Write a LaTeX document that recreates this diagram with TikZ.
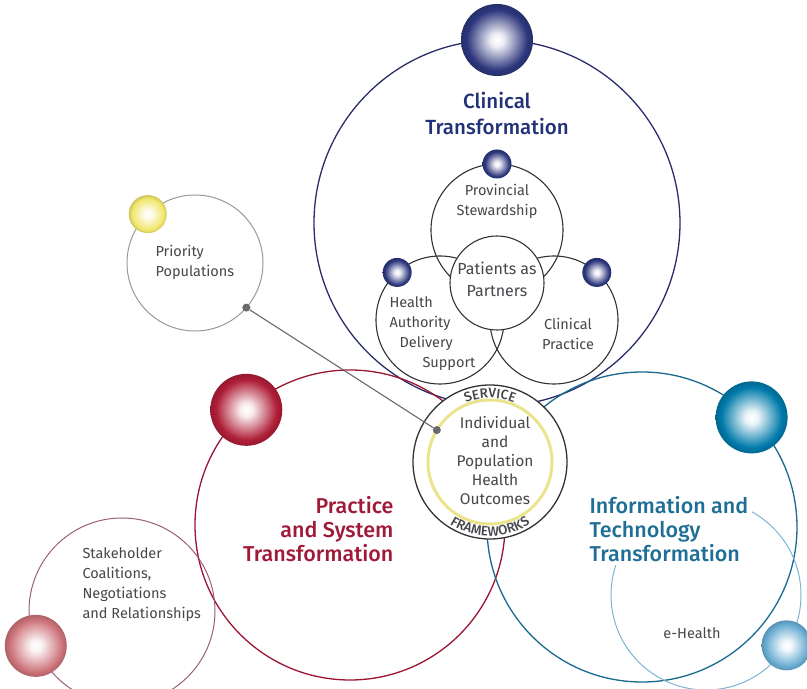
\documentclass[tikz,border=0pt]{standalone}
\usepackage{fontspec}
\setmainfont{Fira Sans}
\newfontfamily\headfont{Fira Sans Medium}
\usetikzlibrary{calc,decorations.text}

\definecolor{clin}{RGB}{40,45,105}
\definecolor{clint}{RGB}{35,50,120}
\definecolor{prac}{RGB}{155,20,50}
\definecolor{pract}{RGB}{160,25,55}
\definecolor{info}{RGB}{25,105,145}
\definecolor{infot}{RGB}{30,110,150}
\definecolor{ehc}{RGB}{125,180,210}
\definecolor{stake}{RGB}{155,95,115}
\definecolor{yel}{RGB}{235,228,140}
\definecolor{dark}{RGB}{50,50,55}
\definecolor{txt}{RGB}{70,70,75}
\definecolor{linkc}{RGB}{105,105,110}
% orb colours
\definecolor{oclin}{RGB}{45,55,125}
\definecolor{oprac}{RGB}{175,30,55}
\definecolor{oinfo}{RGB}{0,122,170}
\definecolor{oeh}{RGB}{105,172,210}
\definecolor{ostake}{RGB}{205,115,122}
\definecolor{oprio}{RGB}{240,230,105}

% white-centred orbs (tikz maps the inner 50bp square onto the node)
\newcommand{\makeorb}[2]{%
  \pgfdeclareradialshading{#1}{\pgfpoint{0bp}{0bp}}{%
    color(0bp)=(white); color(4.5bp)=(white!92!#2); color(21bp)=(#2);
    color(25bp)=(#2!85!black); color(50bp)=(#2!85!black)}}
\makeorb{orbclin}{oclin}
\makeorb{orbprac}{oprac}
\makeorb{orbinfo}{oinfo}
\makeorb{orbeh}{oeh}
\makeorb{orbstake}{ostake}
\makeorb{orbprio}{oprio}

\begin{document}
\begin{tikzpicture}[x=1pt,y=1pt]
  \tikzstyle{ring}=[circle,draw,inner sep=0pt,outer sep=0pt,line width=1.3pt]
  \tikzstyle{orb}=[circle,inner sep=0pt,shade]
  \tikzstyle{lbl}=[font=\fontsize{14.5}{20}\selectfont,text=txt,align=center]
  \tikzstyle{head}=[font=\headfont\fontsize{21.5}{24}\selectfont]
  \tikzstyle{dot}=[circle,fill=linkc,inner sep=0pt,minimum size=8pt]
  \clip (0,0) rectangle (807,689);

  % outer circles
  \node[ring,draw=clin,minimum size=366pt] (clin) at (497,466) {};
  \node[ring,draw=prac,minimum size=310pt] (prac) at (350,164) {};
  \node[ring,draw=info,minimum size=310pt] (info) at (642,162) {};
  \node[ring,draw=ehc,line width=1pt,minimum size=190pt] (eh) at (706,94) {};
  \node[ring,draw=stake,line width=1pt,minimum size=186pt] (stake) at (122,78) {};
  \node[ring,draw=gray!80,line width=1pt,minimum size=136pt] (prio) at (195,426) {};

  % clinical trio
  \node[ring,draw=dark,line width=1.1pt,minimum size=132pt] (prov) at (497,459) {};
  \node[ring,draw=dark,line width=1.1pt,minimum size=128pt] (hads) at (440,369) {};
  \node[ring,draw=dark,line width=1.1pt,minimum size=128pt] (cp) at (554,369) {};
  \node[ring,draw=dark,line width=1.1pt,fill=white,minimum size=94pt] (pat) at (497,406) {};

  % hub in the middle
  \node[ring,draw=dark,fill=white,minimum size=154pt] (hub) at (490,227) {};
  \node[ring,draw=yel,line width=3pt,minimum size=124pt] (yl) at (490,227) {};
  \path[decorate,decoration={text along path,text align=center,
      text={|\headfont\fontsize{13.5}{14}\selectfont\color{txt}|SERVICE}}]
    ($(hub.center)+(125:64)$) arc (125:55:64);
  \path[decorate,decoration={text along path,text align=center,
      text={|\headfont\fontsize{13.5}{14}\selectfont\color{txt}|FRAMEWORKS}}]
    ($(hub.center)+(210:74)$) arc (210:330:74);

  % link to priority populations
  \node[dot] (pd) at (prio.-41) {};
  \node[dot] (hd) at (yl.149) {};
  \draw[linkc,line width=1.1pt] (pd) -- (hd);

  % orbs
  \node[orb,shading=orbclin,minimum size=72pt] (clinb) at (clin.90) {};
  \node[orb,shading=orbclin,minimum size=29pt] (provb) at (prov.90) {};
  \node[orb,shading=orbclin,minimum size=29pt] (hadsb) at (hads.132) {};
  \node[orb,shading=orbclin,minimum size=29pt] (cpb) at (cp.48) {};
  \node[orb,shading=orbprac,minimum size=72pt] (pracb) at (prac.132) {};
  \node[orb,shading=orbinfo,minimum size=72pt] (infob) at (info.45) {};
  \node[orb,shading=orbeh,minimum size=50pt] (ehb) at (eh.-32) {};
  \node[orb,shading=orbstake,minimum size=62pt] (stakeb) at (stake.202) {};
  \node[orb,shading=orbprio,minimum size=38pt] (priob) at (prio.134) {};

  % labels
  \node[head,text=clint,align=center,font=\headfont\fontsize{20.5}{26}\selectfont] (clinl) at (497,576) {Clinical\\Transformation};
  \node[lbl] (provl) at (497,488) {Provincial\\Stewardship};
  \node[lbl,font=\fontsize{16}{22}\selectfont] (patl) at (497,410) {Patients as\\Partners};
  \node[lbl,align=left,anchor=west] (hadsl) at (386,355) {Health\\Authority\\\hspace*{10pt}Delivery\\\hspace*{33pt}Support};
  \node[lbl] (cpl) at (568,355) {Clinical\\Practice};
  \node[lbl,font=\fontsize{15.5}{19}\selectfont] (hubl) at (495,228) {Individual\\and\\Population\\Health\\Outcomes};
  \node[lbl,align=left,anchor=west] (priol) at (152,427) {Priority\\Populations};
  \node[head,text=pract,align=right,anchor=east] (pracl) at (397,160) {Practice\\and System\\Transformation};
  \node[head,text=infot,align=left,anchor=west,fill=white] (infol) at (586,160) {Information and\\Technology\\Transformation};
  \node[lbl,align=left,anchor=west] (stakel) at (79,104) {Stakeholder\\Coalitions,\\Negotiations\\and Relationships};
  \node[lbl] (ehl) at (692,56) {e-Health};
\end{tikzpicture}
\end{document}
